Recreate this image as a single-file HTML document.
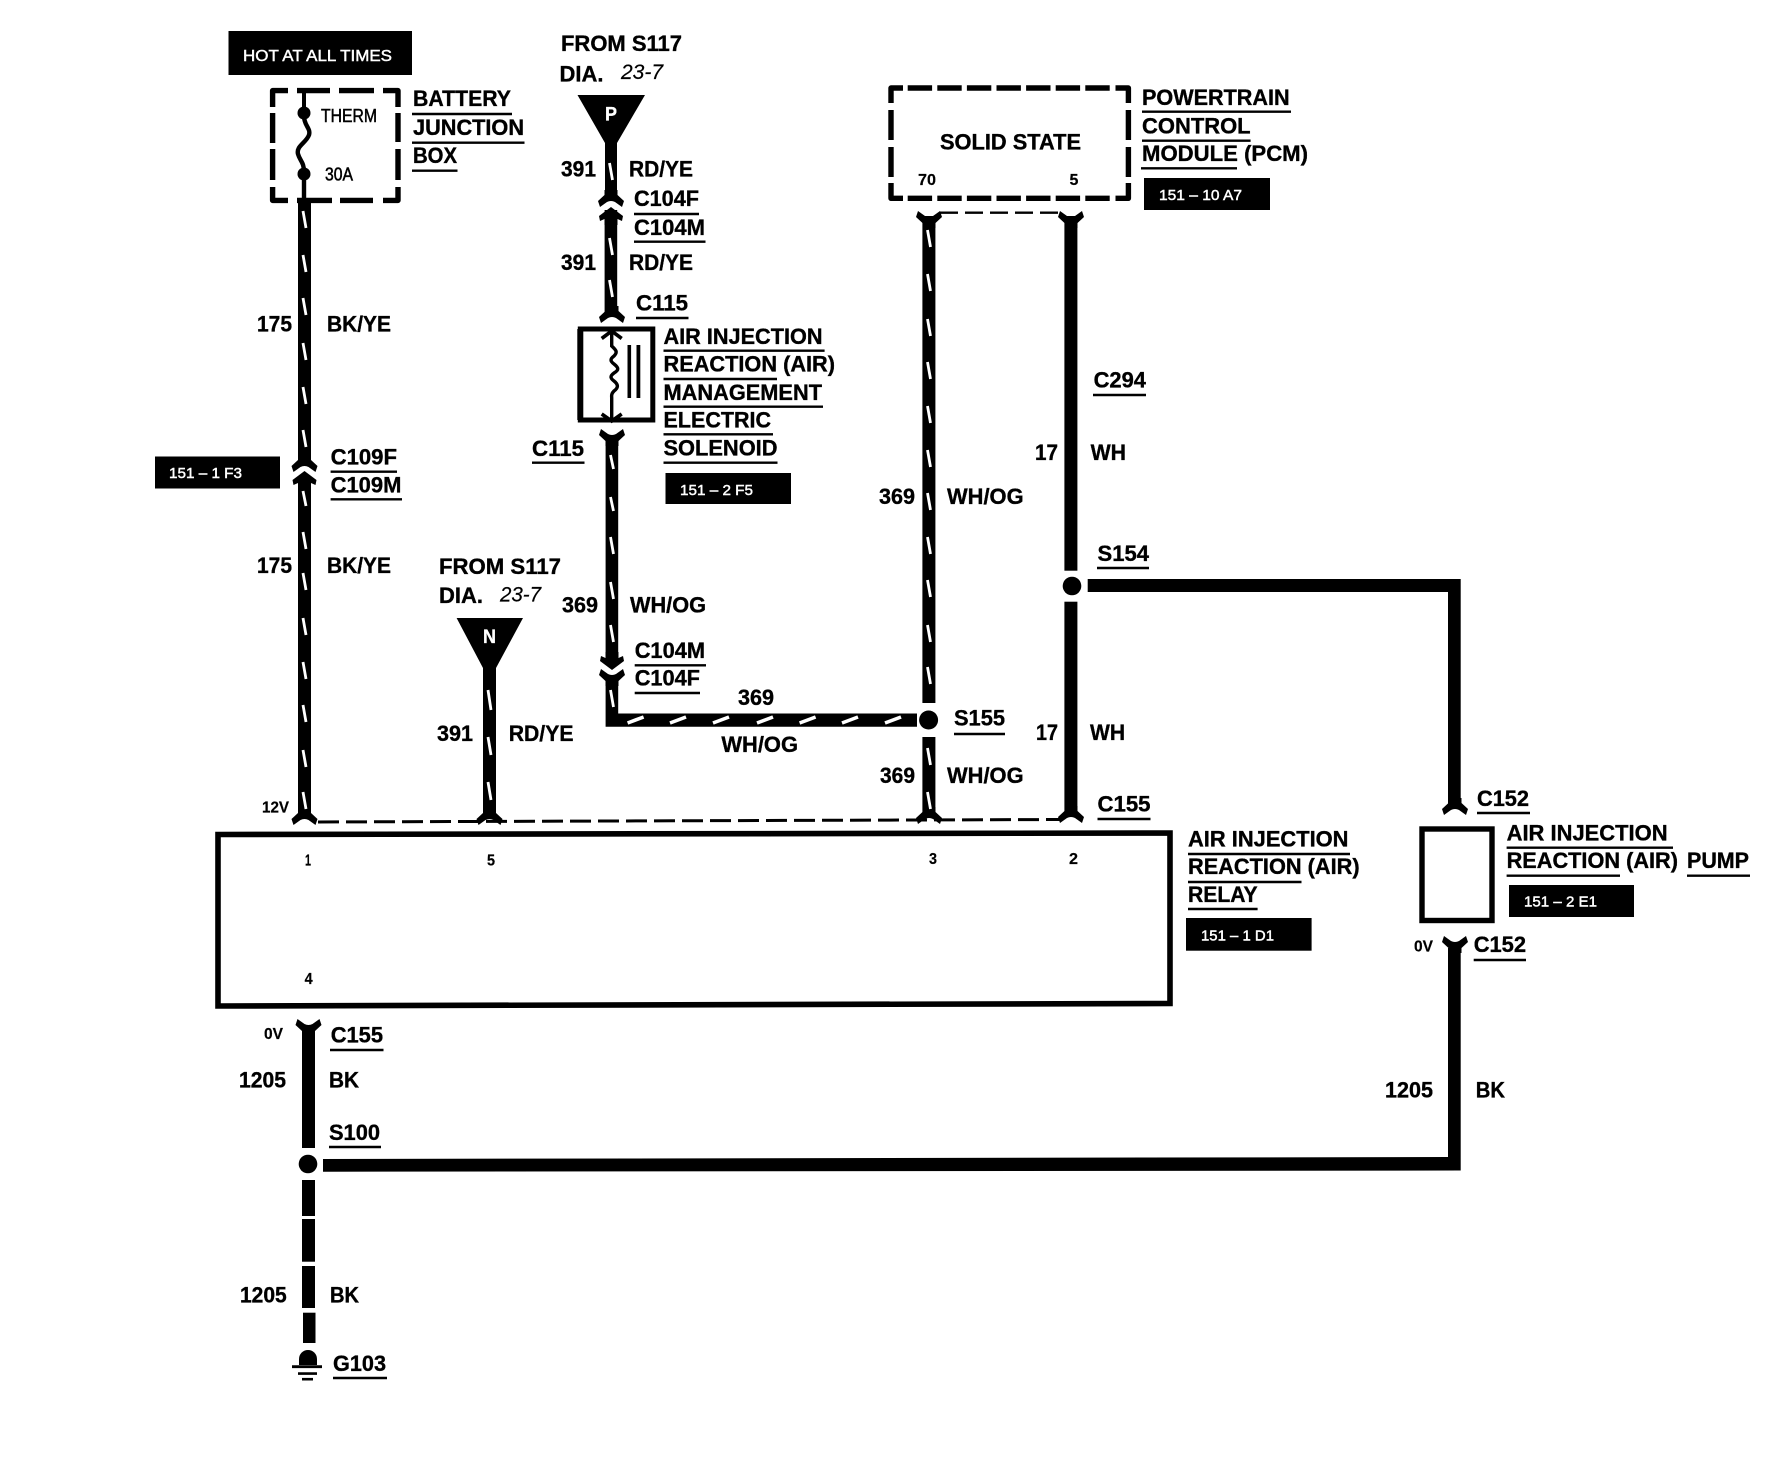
<!DOCTYPE html>
<html lang="en">
<head>
<meta charset="utf-8">
<title>Air Injection Reaction Wiring Diagram</title>
<style>
html,body{margin:0;padding:0;background:#fff;}
svg{display:block;}
text{font-family:"Liberation Sans",sans-serif;font-weight:700;font-size:22px;fill:#000;stroke:#000;stroke-width:.35;}
.s{font-size:16px;font-weight:400;fill:#fff;stroke:#fff;stroke-width:.45;}
.t{font-size:18px;font-weight:400;stroke-width:.5;}
.n{font-size:16px;stroke-width:.2;}
.i{font-size:21px;font-weight:400;font-style:italic;stroke-width:.2;}
.u{stroke:#000;stroke-width:2.4;fill:none;}
.w{stroke:#fff;stroke-width:2.8;fill:none;}
.b{stroke:#000;stroke-width:5.4;fill:none;stroke-linejoin:round;}
</style>
</head>
<body>
<svg xmlns="http://www.w3.org/2000/svg" width="1792" height="1472" viewBox="0 0 1792 1472">
<defs>
<path id="fd" d="M-6.5 -9H6.5V-4L13 2 11 8 4 3Q0 1 -4 3L-11 8 -13 2 -6.5 -4Z" fill="#000"/>
<path id="fu" d="M-6.5 9H6.5V4L13 -2 11 -8 4 -3Q0 -1 -4 -3L-11 -8 -13 -2 -6.5 4Z" fill="#000"/>
<path id="mu" d="M0 -5L12 4 11 9 6.5 7V13H-6.5V7L-11 9 -12 4Z" fill="#000"/>
<path id="md" d="M0 5L12 -4 11 -9 6.5 -7V-13H-6.5V-7L-11 -9 -12 -4Z" fill="#000"/>
</defs>
<rect width="1792" height="1472" fill="#fff"/>

<!-- black tag boxes -->
<rect x="228.5" y="31" width="183.5" height="44" fill="#000"/>
<rect x="155" y="456.5" width="125" height="32" fill="#000"/>
<rect x="665.5" y="473" width="125.5" height="31" fill="#000"/>
<rect x="1144" y="178" width="126" height="32" fill="#000"/>
<rect x="1186" y="918" width="125.6" height="32.7" fill="#000"/>
<rect x="1509" y="885" width="125" height="32" fill="#000"/>
<text class="s" x="243" y="61" textLength="149" lengthAdjust="spacingAndGlyphs">HOT AT ALL TIMES</text>
<text class="s" x="169" y="478" textLength="73" lengthAdjust="spacingAndGlyphs" style="font-size:15px">151 – 1 F3</text>
<text class="s" x="680" y="495" textLength="73" lengthAdjust="spacingAndGlyphs" style="font-size:15px">151 – 2 F5</text>
<text class="s" x="1159" y="200" textLength="83" lengthAdjust="spacingAndGlyphs" style="font-size:15px">151 – 10 A7</text>
<text class="s" x="1201" y="940.7" textLength="73" lengthAdjust="spacingAndGlyphs" style="font-size:15px">151 – 1 D1</text>
<text class="s" x="1524" y="906.7" textLength="73" lengthAdjust="spacingAndGlyphs" style="font-size:15px">151 – 2 E1</text>

<!-- battery junction box -->
<path class="b" d="M288 90.6H272.6V107M272.6 113V143M272.6 149V180M272.6 187V200.4H288M297 200.4H332M340 200.4H373M383 200.4H398V187M398 180V149M398 142V113M398 107V90.6H383M374 90.6H339M330 90.6H297"/>
<path d="M304 90V110" stroke="#000" stroke-width="4" fill="none"/>
<circle cx="304" cy="113" r="6.5" fill="#000"/>
<path d="M304 116C304 126 311 128 309 135C306 143 296 146 298 154C300 161 304 162 304 172V203" stroke="#000" stroke-width="4.4" fill="none"/>
<circle cx="304" cy="174" r="6.5" fill="#000"/>
<text class="t" x="321" y="122" textLength="56" lengthAdjust="spacingAndGlyphs">THERM</text>
<text class="t" x="325" y="180.7" textLength="28" lengthAdjust="spacingAndGlyphs">30A</text>

<!-- PCM dashed box -->
<path class="b" d="M903 88H891V103M891 110V140M891 147V177M891 183V198.3H903M1115.5 198.3H1128.4V183M1128.4 177V147M1128.4 140V110M1128.4 103V88H1115.5" />
<path class="b" d="M907.7 88H1111" stroke-dasharray="24.4 5.2"/>
<path class="b" d="M907.7 198.3H1111" stroke-dasharray="24.4 5.2"/>
<text x="940" y="149.3" textLength="141" lengthAdjust="spacingAndGlyphs">SOLID STATE</text>
<text class="n" x="918" y="185" textLength="18" lengthAdjust="spacingAndGlyphs">70</text>
<text class="n" x="1069.5" y="185">5</text>

<!-- wires -->
<rect x="298" y="203" width="13" height="258" fill="#000"/>
<rect x="298" y="478" width="13" height="340" fill="#000"/>
<use href="#fd" x="304.5" y="464"/>
<use href="#mu" x="304.5" y="476"/>
<use href="#fd" x="304.5" y="817"/>
<use href="#fd" x="489.5" y="817"/>

<path d="M577.5 95H645L617 143V192H605V143Z" fill="#000"/>
<rect x="604.6" y="210" width="12.6" height="105" fill="#000"/>
<use href="#fd" x="611" y="199"/>
<use href="#mu" x="611" y="212"/>
<use href="#fd" x="612" y="315"/>
<use href="#fu" x="612" y="437"/>
<rect x="605.6" y="440" width="12.6" height="218" fill="#000"/>
<use href="#md" x="612" y="665"/>
<use href="#fu" x="612" y="677"/>
<path d="M605.6 680H618.2V713.5H917V726.8H605.6Z" fill="#000"/>

<path d="M456.6 618H523L496 668V815H483V668Z" fill="#000"/>

<rect x="922.4" y="216" width="13" height="487" fill="#000"/>
<rect x="922.4" y="737" width="13" height="80" fill="#000"/>
<circle cx="928.6" cy="720" r="9.5" fill="#000"/>
<use href="#fu" x="929" y="219"/>
<use href="#fd" x="929" y="816"/>

<rect x="1064.4" y="216" width="13" height="354.7" fill="#000"/>
<rect x="1064.4" y="601.7" width="13" height="214" fill="#000"/>
<circle cx="1072" cy="586" r="9.3" fill="#000"/>
<use href="#fu" x="1071" y="219"/>
<use href="#fd" x="1071" y="815"/>
<path d="M1087.7 579H1460.7V805H1448V592H1087.7Z" fill="#000"/>
<use href="#fd" x="1455" y="807"/>
<use href="#fu" x="1455" y="944"/>
<path d="M1448 948H1460.7V1170.5L323 1171.7V1159L1448 1157Z" fill="#000"/>

<use href="#fu" x="308.5" y="1027"/>
<rect x="302" y="1030" width="13" height="118" fill="#000"/>
<circle cx="308" cy="1164" r="9.3" fill="#000"/>
<rect x="302" y="1180" width="13" height="36" fill="#000"/>
<rect x="302" y="1219" width="13" height="42.7" fill="#000"/>
<rect x="302" y="1266" width="13" height="42" fill="#000"/>
<rect x="303" y="1312.7" width="12.5" height="30.3" fill="#000"/>

<!-- ground -->
<path d="M299 1365V1359A9 9 0 0 1 317 1359V1365Z" fill="#000"/>
<path d="M292 1366.7H322" stroke="#000" stroke-width="2.8"/>
<path d="M298 1373.6H317" stroke="#000" stroke-width="2.6"/>
<path d="M302 1379.2H313" stroke="#000" stroke-width="2.6"/>

<!-- white tracer dashes -->
<g class="w">
<path d="M303 211l3 17M303 255l3 17M303 298l3 17M303 343l3 17M303 387l3 17M303 430l3 17M303 491l3 15M303 532l3 17M303 573l3 17M303 618l3 17M303 662l3 17M303 705l3 17M303 750l3 17M303 792l3 17"/>
<path d="M609.5 163l3 17M609.5 238l3 17M609.5 280l3 17"/>
<path d="M610.5 455l3 14M610.5 497l3 14M610.5 537l3 17M610.5 582l3 17M610.5 625l3 17M610.5 690l3 17"/>
<path d="M488 690l3 20M488 737l3 18M488 782l3 18"/>
<path d="M927.5 230l3 17M927.5 274l3 17M927.5 319l3 17M927.5 362l3 17M927.5 406l3 17M927.5 450l3 17M927.5 493l3 17M927.5 537l3 17M927.5 580l3 17M927.5 625l3 17M927.5 667l3 17M927.5 748l3 17M927.5 792l3 17"/>
<path stroke-width="3.6" d="M627.6 723l16 -6M670 723l16 -6M713 723l16 -6M757 723l16 -6M799.6 723l16 -6M842 723l16 -6M885 723l16 -6"/>
</g>
<path d="M940 212.7H1058" stroke="#000" stroke-width="2.4" stroke-dasharray="18 7" fill="none"/>
<path d="M318 822L1060 819.5" stroke="#000" stroke-width="3" stroke-dasharray="21 7" fill="none"/>

<!-- solenoid -->
<path d="M580.3 329H652.8V420H580.3Z" stroke="#000" stroke-width="5" fill="none"/>
<path d="M580.3 329V420" stroke="#000" stroke-width="6" fill="none"/>
<path d="M611.7 331V346C616 350 618 352 614 356C610 359 610 361 614 364C619 368 619 370 614 373C610 376 610 378 614 381C619 385 618 388 614 391C611 394 611.7 396 611.7 398V420" stroke="#000" stroke-width="3.4" fill="none"/>
<path d="M601.7 338.5L611.7 331L621.7 338.5M601.7 414L611.7 421L621.7 414" stroke="#000" stroke-width="3.6" fill="none"/>
<rect x="627.5" y="345" width="3.6" height="53" fill="#000"/>
<rect x="636.5" y="345" width="3.8" height="53" fill="#000"/>

<!-- relay and pump -->
<path d="M218 834.5L1170 833V1003.5L218 1006Z" stroke="#000" stroke-width="5.6" fill="none"/>
<rect x="1422" y="829" width="70" height="91.5" stroke="#000" stroke-width="5.4" fill="none"/>

<text style="fill:#fff;stroke:#fff;font-size:19px" x="605" y="120.7" textLength="12" lengthAdjust="spacingAndGlyphs">P</text>
<text style="fill:#fff;stroke:#fff;font-size:19px" x="483" y="643" textLength="13" lengthAdjust="spacingAndGlyphs">N</text>

<!-- pin numbers / small -->
<text class="n" x="305" y="865.7" textLength="6" lengthAdjust="spacingAndGlyphs">1</text>
<text class="n" x="487" y="865.7" textLength="8" lengthAdjust="spacingAndGlyphs">5</text>
<text class="n" x="929" y="864" textLength="8" lengthAdjust="spacingAndGlyphs">3</text>
<text class="n" x="1069" y="864" textLength="9" lengthAdjust="spacingAndGlyphs">2</text>
<text class="n" x="304.6" y="984" textLength="8" lengthAdjust="spacingAndGlyphs">4</text>
<text class="n" x="262" y="812.7" textLength="27" lengthAdjust="spacingAndGlyphs">12V</text>
<text class="n" x="264" y="1039" textLength="19" lengthAdjust="spacingAndGlyphs">0V</text>
<text class="n" x="1414" y="951.7" textLength="19" lengthAdjust="spacingAndGlyphs">0V</text>

<!-- labels -->
<text x="413" y="106" textLength="98" lengthAdjust="spacingAndGlyphs">BATTERY</text>
<text x="413" y="135" textLength="111" lengthAdjust="spacingAndGlyphs">JUNCTION</text>
<text x="413" y="163" textLength="44" lengthAdjust="spacingAndGlyphs">BOX</text>
<text x="561" y="51" textLength="121" lengthAdjust="spacingAndGlyphs">FROM S117</text>
<text x="559.5" y="81.7" textLength="44" lengthAdjust="spacingAndGlyphs">DIA.</text>
<text class="i" x="621" y="79" textLength="42" lengthAdjust="spacingAndGlyphs">23-7</text>
<text x="561" y="176.7" textLength="35" lengthAdjust="spacingAndGlyphs">391</text>
<text x="629" y="176.7" textLength="64" lengthAdjust="spacingAndGlyphs">RD/YE</text>
<text x="634" y="206" textLength="65" lengthAdjust="spacingAndGlyphs">C104F</text>
<text x="634" y="235" textLength="71" lengthAdjust="spacingAndGlyphs">C104M</text>
<text x="561" y="270" textLength="35" lengthAdjust="spacingAndGlyphs">391</text>
<text x="629" y="270" textLength="64" lengthAdjust="spacingAndGlyphs">RD/YE</text>
<text x="636" y="310.7" textLength="52" lengthAdjust="spacingAndGlyphs">C115</text>
<text x="532" y="456" textLength="52" lengthAdjust="spacingAndGlyphs">C115</text>
<text x="663.5" y="344" textLength="159" lengthAdjust="spacingAndGlyphs">AIR INJECTION</text>
<text x="663.5" y="371.7" textLength="171.5" lengthAdjust="spacingAndGlyphs">REACTION (AIR)</text>
<text x="663.5" y="400" textLength="158.5" lengthAdjust="spacingAndGlyphs">MANAGEMENT</text>
<text x="663.5" y="427.7" textLength="107.5" lengthAdjust="spacingAndGlyphs">ELECTRIC</text>
<text x="663.5" y="455.7" textLength="114" lengthAdjust="spacingAndGlyphs">SOLENOID</text>
<text x="257" y="331.7" textLength="35" lengthAdjust="spacingAndGlyphs">175</text>
<text x="327" y="331.7" textLength="64" lengthAdjust="spacingAndGlyphs">BK/YE</text>
<text x="330.6" y="464.3" textLength="66.4" lengthAdjust="spacingAndGlyphs">C109F</text>
<text x="330.6" y="492.7" textLength="70.8" lengthAdjust="spacingAndGlyphs">C109M</text>
<text x="257" y="573" textLength="35" lengthAdjust="spacingAndGlyphs">175</text>
<text x="327" y="573" textLength="64" lengthAdjust="spacingAndGlyphs">BK/YE</text>
<text x="439" y="574" textLength="122" lengthAdjust="spacingAndGlyphs">FROM S117</text>
<text x="439" y="603" textLength="44" lengthAdjust="spacingAndGlyphs">DIA.</text>
<text class="i" x="500" y="601.7" textLength="41" lengthAdjust="spacingAndGlyphs">23-7</text>
<text x="437" y="741" textLength="36" lengthAdjust="spacingAndGlyphs">391</text>
<text x="508.7" y="741" textLength="64.8" lengthAdjust="spacingAndGlyphs">RD/YE</text>
<text x="562" y="612.7" textLength="36" lengthAdjust="spacingAndGlyphs">369</text>
<text x="630" y="612.7" textLength="76" lengthAdjust="spacingAndGlyphs">WH/OG</text>
<text x="634.7" y="658" textLength="70.3" lengthAdjust="spacingAndGlyphs">C104M</text>
<text x="634.7" y="685.7" textLength="65.3" lengthAdjust="spacingAndGlyphs">C104F</text>
<text x="738" y="705" textLength="36" lengthAdjust="spacingAndGlyphs">369</text>
<text x="721.4" y="752" textLength="76.6" lengthAdjust="spacingAndGlyphs">WH/OG</text>
<text x="954" y="725.7" textLength="51" lengthAdjust="spacingAndGlyphs">S155</text>
<text x="880" y="783" textLength="35" lengthAdjust="spacingAndGlyphs">369</text>
<text x="947" y="783" textLength="76.6" lengthAdjust="spacingAndGlyphs">WH/OG</text>
<text x="879" y="504" textLength="36" lengthAdjust="spacingAndGlyphs">369</text>
<text x="947" y="504" textLength="76.6" lengthAdjust="spacingAndGlyphs">WH/OG</text>
<text x="1142" y="105" textLength="147.6" lengthAdjust="spacingAndGlyphs">POWERTRAIN</text>
<text x="1142" y="133.3" textLength="108.6" lengthAdjust="spacingAndGlyphs">CONTROL</text>
<text x="1142" y="161" textLength="166" lengthAdjust="spacingAndGlyphs">MODULE (PCM)</text>
<text x="1093.6" y="387.3" textLength="52.4" lengthAdjust="spacingAndGlyphs">C294</text>
<text x="1035" y="460" textLength="23" lengthAdjust="spacingAndGlyphs">17</text>
<text x="1090.6" y="460" textLength="35.4" lengthAdjust="spacingAndGlyphs">WH</text>
<text x="1097.5" y="561" textLength="51.5" lengthAdjust="spacingAndGlyphs">S154</text>
<text x="1036" y="740" textLength="22" lengthAdjust="spacingAndGlyphs">17</text>
<text x="1090" y="740" textLength="35" lengthAdjust="spacingAndGlyphs">WH</text>
<text x="1097.5" y="811.7" textLength="53" lengthAdjust="spacingAndGlyphs">C155</text>
<text x="1188" y="846.7" textLength="160.5" lengthAdjust="spacingAndGlyphs">AIR INJECTION</text>
<text x="1188" y="874" textLength="171.6" lengthAdjust="spacingAndGlyphs">REACTION (AIR)</text>
<text x="1188" y="902" textLength="69.6" lengthAdjust="spacingAndGlyphs">RELAY</text>
<text x="1477" y="806" textLength="52" lengthAdjust="spacingAndGlyphs">C152</text>
<text x="1506.6" y="840.7" textLength="161" lengthAdjust="spacingAndGlyphs">AIR INJECTION</text>
<text x="1506.6" y="868" textLength="171.4" lengthAdjust="spacingAndGlyphs">REACTION (AIR)</text>
<text x="1687" y="868" textLength="62" lengthAdjust="spacingAndGlyphs">PUMP</text>
<text x="1473.7" y="952" textLength="52.3" lengthAdjust="spacingAndGlyphs">C152</text>
<text x="1385" y="1097.3" textLength="48" lengthAdjust="spacingAndGlyphs">1205</text>
<text x="1475.8" y="1097.3" textLength="29.2" lengthAdjust="spacingAndGlyphs">BK</text>
<text x="330.7" y="1042.7" textLength="52.3" lengthAdjust="spacingAndGlyphs">C155</text>
<text x="239" y="1087.7" textLength="47" lengthAdjust="spacingAndGlyphs">1205</text>
<text x="329" y="1087.7" textLength="30" lengthAdjust="spacingAndGlyphs">BK</text>
<text x="329" y="1140" textLength="51" lengthAdjust="spacingAndGlyphs">S100</text>
<text x="240" y="1302.7" textLength="46.7" lengthAdjust="spacingAndGlyphs">1205</text>
<text x="330" y="1302.7" textLength="29" lengthAdjust="spacingAndGlyphs">BK</text>
<text x="333" y="1371" textLength="53" lengthAdjust="spacingAndGlyphs">G103</text>

<!-- underlines -->
<path class="u" d="M412 114H512M412 142.7H524.5M412 170.7H457.5M634 214H699M634 241.7H705.5M636 318H688.5M532 462.7H584.5M663.5 350.7H824.6M663.5 379H777M663.5 406.7H823M663.5 434.3H773M663.5 462.7H777.5M330.6 471.7H397M330.6 499.3H402M634.7 665.3H706M634.7 693H700M954 734H1005M1142 111.7H1291M1142 140.7H1250.6M1141 168.3H1237M1093 395H1146M1097 568H1149M1097.5 819H1150.5M1188 854H1350M1188 882H1301.5M1188 909H1257.6M1477 813H1530M1506.6 847.7H1673M1506.6 875.7H1620M1687 875.7H1750M1473.7 960H1526M330 1050H383.5M329 1147H381M333 1378H387"/>
</svg>
</body>
</html>
